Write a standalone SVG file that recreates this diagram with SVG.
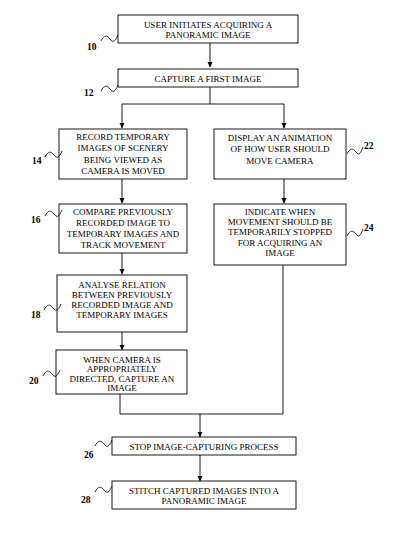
<svg xmlns="http://www.w3.org/2000/svg" width="400" height="551" viewBox="0 0 400 551">
<defs>
<marker id="ah" markerWidth="6" markerHeight="6" refX="5" refY="3" orient="auto" markerUnits="userSpaceOnUse">
<path d="M0,0.5 L5.5,3 L0,5.5 Z" fill="#000"/>
</marker>
<style>
.box{fill:#fff;stroke:#000;stroke-width:0.9}
.t{font-family:"Liberation Serif","Times New Roman",serif;font-size:9px;fill:#000;text-anchor:middle}
.n{font-family:"Liberation Serif","Times New Roman",serif;font-size:9.5px;fill:#000;font-weight:bold}
.c{fill:none;stroke:#000;stroke-width:0.9}
.sq{fill:none;stroke:#000;stroke-width:0.8}
</style>
</defs>
<rect width="400" height="551" fill="#fff"/>
<g id="connectors">
<path class="c" d="M210,43 V67" marker-end="url(#ah)"/>
<path class="c" d="M210,87 V104 M122,104 H284"/>
<path class="c" d="M122,104 V128" marker-end="url(#ah)"/>
<path class="c" d="M284,104 V128" marker-end="url(#ah)"/>
<path class="c" d="M122,179 V203" marker-end="url(#ah)"/>
<path class="c" d="M284,179 V203" marker-end="url(#ah)"/>
<path class="c" d="M122,253 V274" marker-end="url(#ah)"/>
<path class="c" d="M122,332 V350" marker-end="url(#ah)"/>
<path class="c" d="M120,394 V414 H283 V265"/>
<path class="c" d="M200,414 V437" marker-end="url(#ah)"/>
<path class="c" d="M200,455 V481" marker-end="url(#ah)"/>
</g>
<g id="n10">
<rect class="box" x="118" y="15" width="180" height="28"/>
<text class="t" x="208" y="28">USER INITIATES ACQUIRING A</text>
<text class="t" x="208" y="38">PANORAMIC IMAGE</text>
<path class="sq" d="M101,41 C104,35 107,35 110,39 S115,42 118,35"/>
<text class="n" x="87" y="50">10</text>
</g>
<g id="n12">
<rect class="box" x="118" y="69" width="180" height="18"/>
<text class="t" x="208" y="82">CAPTURE A FIRST IMAGE</text>
<path class="sq" d="M101,91 C104,85 107,85 110,89 S115,92 118,85"/>
<text class="n" x="84" y="96">12</text>
</g>
<g id="n14">
<rect class="box" x="59" y="129" width="128" height="50"/>
<text class="t" x="123" y="140">RECORD TEMPORARY</text>
<text class="t" x="123" y="151">IMAGES OF SCENERY</text>
<text class="t" x="123" y="163">BEING VIEWED AS</text>
<text class="t" x="123" y="174">CAMERA IS MOVED</text>
<path class="sq" d="M45,157 C48,151 51,151 54,155 S59,158 62,151"/>
<text class="n" x="32" y="164">14</text>
</g>
<g id="n16">
<rect class="box" x="59" y="204" width="128" height="49"/>
<text class="t" x="123" y="215">COMPARE PREVIOUSLY</text>
<text class="t" x="123" y="226">RECORDED IMAGE TO</text>
<text class="t" x="123" y="237">TEMPORARY IMAGES AND</text>
<text class="t" x="123" y="248">TRACK MOVEMENT</text>
<path class="sq" d="M45,216 C48,210 51,210 54,214 S59,217 62,210"/>
<text class="n" x="31" y="223">16</text>
</g>
<g id="n18">
<rect class="box" x="57" y="275" width="130" height="57"/>
<text class="t" x="122" y="288">ANALYSE RELATION</text>
<text class="t" x="122" y="298">BETWEEN PREVIOUSLY</text>
<text class="t" x="122" y="308">RECORDED IMAGE AND</text>
<text class="t" x="122" y="318">TEMPORARY IMAGES</text>
<path class="sq" d="M44,310 C47,304 50,304 53,308 S58,311 61,304"/>
<text class="n" x="31" y="318">18</text>
</g>
<g id="n20">
<rect class="box" x="56" y="350" width="131" height="44"/>
<text class="t" x="122" y="363">WHEN CAMERA IS</text>
<text class="t" x="122" y="372">APPROPRIATELY</text>
<text class="t" x="122" y="382">DIRECTED, CAPTURE AN</text>
<text class="t" x="122" y="391">IMAGE</text>
<path class="sq" d="M43,376 C46,370 49,370 52,374 S57,377 60,370"/>
<text class="n" x="29" y="384">20</text>
</g>
<g id="n22">
<rect class="box" x="214" y="129" width="132" height="50"/>
<text class="t" x="280" y="141">DISPLAY AN ANIMATION</text>
<text class="t" x="280" y="152">OF HOW USER SHOULD</text>
<text class="t" x="280" y="164">MOVE CAMERA</text>
<path class="sq" d="M347,154 C350,148 353,148 356,152 S360,154 363,147"/>
<text class="n" x="364" y="149">22</text>
</g>
<g id="n24">
<rect class="box" x="214" y="204" width="132" height="61"/>
<text class="t" x="280" y="215">INDICATE WHEN</text>
<text class="t" x="280" y="225">MOVEMENT SHOULD BE</text>
<text class="t" x="280" y="235">TEMPORARILY STOPPED</text>
<text class="t" x="280" y="246">FOR ACQUIRING AN</text>
<text class="t" x="280" y="256">IMAGE</text>
<path class="sq" d="M347,236 C350,230 353,230 356,234 S360,236 363,229"/>
<text class="n" x="364" y="231">24</text>
</g>
<g id="n26">
<rect class="box" x="112" y="437" width="184" height="18"/>
<text class="t" x="204" y="450">STOP IMAGE-CAPTURING PROCESS</text>
<path class="sq" d="M95,446 C98,440 101,440 104,444 S109,447 112,440"/>
<text class="n" x="84" y="458">26</text>
</g>
<g id="n28">
<rect class="box" x="112" y="481" width="184" height="28"/>
<text class="t" x="204" y="494">STITCH CAPTURED IMAGES INTO A</text>
<text class="t" x="204" y="504">PANORAMIC IMAGE</text>
<path class="sq" d="M95,492 C98,486 101,486 104,490 S109,493 112,486"/>
<text class="n" x="81" y="503">28</text>
</g>
</svg>
